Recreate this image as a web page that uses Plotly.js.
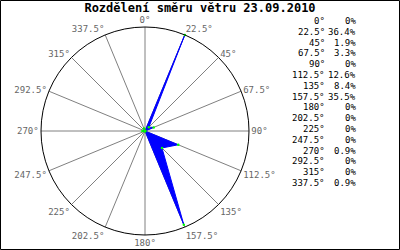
<!DOCTYPE html>
<html><head><meta charset="utf-8">
<script src="https://cdn.plot.ly/plotly-3.0.1.min.js"></script>
<style>html,body{margin:0;padding:0;background:#fff}#c{width:400px;height:250px}</style>
</head><body><div id="c"></div>
<script>
const titleText = "Rozdělení směru větru 23.09.2010";
const directions = [0, 22.5, 45, 67.5, 90, 112.5, 135, 157.5, 180, 202.5, 225, 247.5, 270, 292.5, 315, 337.5];
const tickLabels = ["0°","22.5°","45°","67.5°","90°","112.5°","135°","157.5°","180°","202.5°","225°","247.5°","270°","292.5°","315°","337.5°"];
const percents = [0, 36.4, 1.9, 3.3, 0, 12.6, 8.4, 35.5, 0, 0, 0, 0, 0.9, 0, 0, 0.9];
const pctLabels = ["0%","36.4%","1.9%","3.3%","0%","12.6%","8.4%","35.5%","0%","0%","0%","0%","0.9%","0%","0%","0.9%"];

const W = 400, H = 250;
const cx = 145, cy = 131, R = 104;
const font = "DejaVu Sans Mono, monospace";

const annotations = [];
directions.forEach((d, i) => {
  const yPx = 21 + i * 10.8;
  annotations.push({xref:'paper', yref:'paper', x: 327/W, y: 1 - yPx/H, xanchor:'right', yanchor:'middle',
    text: tickLabels[i], showarrow:false, font:{family:font, size:9, color:'#000'}});
  annotations.push({xref:'paper', yref:'paper', x: 358/W, y: 1 - yPx/H, xanchor:'right', yanchor:'middle',
    text: pctLabels[i], showarrow:false, font:{family:font, size:9, color:'#000'}});
});

const trace = {
  type:'scatterpolar', r: percents, theta: directions, mode:'lines+markers',
  fill:'toself', fillcolor:'#0000ff', line:{color:'#0000ff', width:1},
  marker:{color:'#00ff00', size:2.5}, hoverinfo:'skip', showlegend:false
};

const layout = {
  width:W, height:H, margin:{l:0,r:0,t:0,b:0}, paper_bgcolor:'#fff', showlegend:false,
  title:{text:'<b>'+titleText+'</b>', x:0.5, xanchor:'center', yref:'container', y:1-7.5/H, yanchor:'middle',
    font:{family:font, size:12, color:'#000'}},
  polar:{
    domain:{x:[(cx-R)/W,(cx+R)/W], y:[(H-cy-R)/H,(H-cy+R)/H]},
    bgcolor:'#fff',
    radialaxis:{range:[0,36.4], visible:false},
    angularaxis:{rotation:90, direction:'clockwise', tickmode:'array', tickvals:directions, ticktext:tickLabels,
      showgrid:true, gridcolor:'#808080', gridwidth:1, showline:true, linecolor:'#000', linewidth:1,
      ticks:'', tickfont:{family:font, size:9, color:'#666'}}
  },
  annotations: annotations,
  shapes:[{type:'rect', xref:'paper', yref:'paper', x0:0.5/W, x1:1-0.5/W, y0:0.5/H, y1:1-0.5/H, line:{color:'#000', width:1}}]
};
Plotly.newPlot('c', [trace], layout, {staticPlot:true, displayModeBar:false});
</script></body></html>
